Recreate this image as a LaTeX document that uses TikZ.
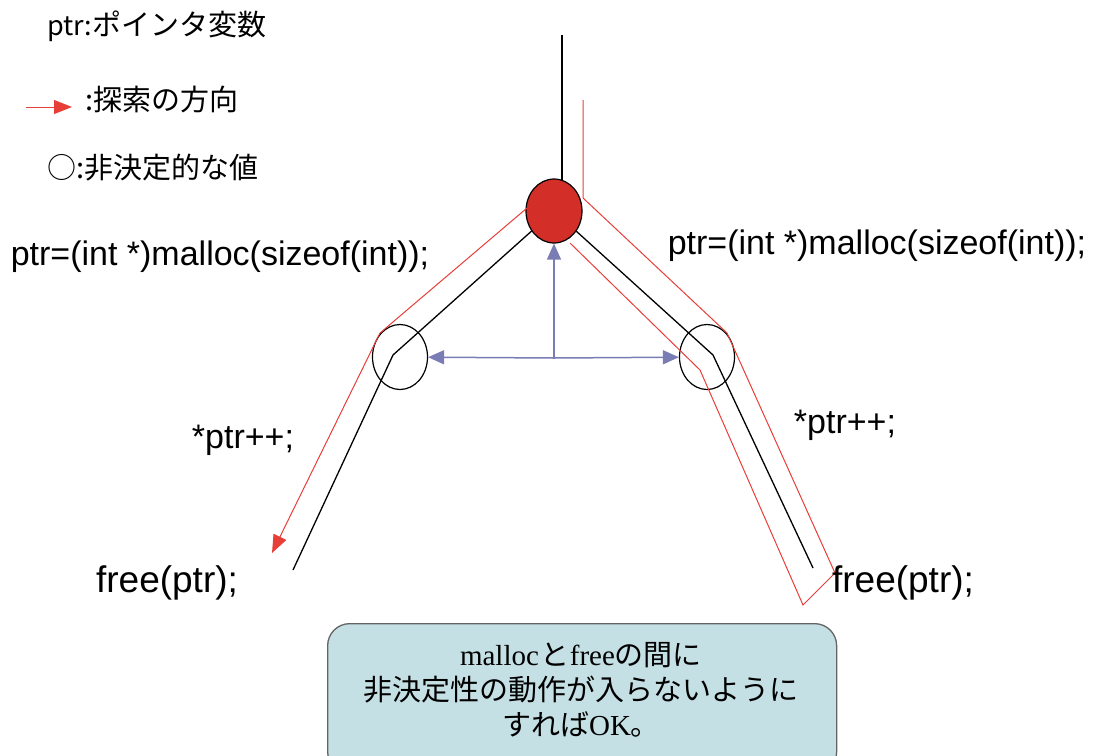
\documentclass[tikz,border=0pt]{standalone}
\usepackage{fontspec}
\setmainfont{Liberation Sans}
\newfontfamily\jp{Noto Sans CJK JP}
\newfontfamily\serifL{Liberation Serif}
\usetikzlibrary{arrows.meta,shapes.geometric}
\pgfdeclarelayer{background}
\pgfsetlayers{background,main}
\definecolor{redline}{RGB}{232,62,56}
\definecolor{redfill}{RGB}{212,46,40}
\definecolor{bluearrow}{RGB}{122,124,180}
\definecolor{boxfill}{RGB}{196,224,228}
\definecolor{boxedge}{RGB}{100,100,100}
\begin{document}
\begin{tikzpicture}[x=1pt,y=-1pt,
  blk/.style={draw=black, line width=1.3pt},
  redln/.style={draw=redline, line width=1pt, line join=miter},
  redtip/.style={-{Triangle[length=18pt,width=14pt]}},
  blu/.style={draw=bluearrow, line width=1.5pt, -{Triangle[length=16pt,width=14pt]}},
  hollow/.style={ellipse, draw, line width=1.2pt, minimum width=55pt, minimum height=65pt, inner sep=0pt},
  rootnode/.style={ellipse, draw, fill=redfill, line width=1.2pt, minimum width=56pt, minimum height=64pt, inner sep=0pt},
  code/.style={font=\fontsize{34}{40}\selectfont, inner sep=0pt},
  freelbl/.style={font=\fontsize{37}{42}\selectfont, inner sep=0pt},
  legend/.style={font=\jp\fontsize{29}{34}\selectfont, inner sep=0pt, anchor=west},
  notebox/.style={draw=boxedge, fill=boxfill, line width=1.3pt, rounded corners=22pt, inner sep=0pt},
  notetext/.style={align=center, inner sep=0pt, font=\jp\fontsize{29}{35}\selectfont}
]
\useasboundingbox (0,0) rectangle (1094,755);

% legend
\node[legend] (leg1) at (47,26) {{\fontsize{27}{34}\selectfont ptr:}ポインタ変数};
\coordinate (la) at (26,107);
\coordinate (lb) at (72,107);
\draw[redln, redtip] (la) -- (lb);
\node[legend] (leg2) at (85,99) {:探索の方向};
\node[legend] (leg3) at (47,168) {○:非決定的な値};

% nodes
\node[rootnode] (root) at (554,211) {};
\node[hollow] (lc) at (400,357) {};
\node[hollow] (rc) at (707,357) {};
\coordinate (top) at (562,35);
\coordinate (lbend) at (393,355);
\coordinate (lend) at (293,570);
\coordinate (rbend) at (713,355);
\coordinate (rend) at (813,568);
\coordinate (hub) at (554,358);

% black tree lines
\begin{pgfonlayer}{background}
\draw[blk] (top) -- (top |- root.center);
\end{pgfonlayer}
\draw[blk] (root) -- (lbend) -- (lend);
\draw[blk] (root) -- (rbend) -- (rend);

% red search paths
\coordinate (lr0) at (527,208);
\coordinate (lr1) at (380,333);
\coordinate (lr2) at (272,553);
\draw[redln, redtip] (lr0) -- (lr1) -- (lr2);
\coordinate (rr0) at (583,100);
\coordinate (rr1) at (583,198);
\coordinate (rr2) at (727,333);
\coordinate (rr3) at (835,573);
\coordinate (rr4) at (803,605);
\coordinate (rr5) at (700,370);
\coordinate (rr6) at (570,243);
\draw[redln] (rr0) -- (rr1) -- (rr2) -- (rr3) -- (rr4) -- (rr5) -- (rr6);

% blue arrows
\draw[blu] (hub) -- (root);
\draw[blu] (hub) -- (lc);
\draw[blu] (hub) -- (rc);

% code labels
\node[code] (m1) at (220,257) {ptr=(int *)malloc(sizeof(int));};
\node[code] (m2) at (877,246) {ptr=(int *)malloc(sizeof(int));};
\node[code] (p1) at (243,440) {*ptr++;};
\node[code] (p2) at (845,425) {*ptr++;};
\node[freelbl] (f1) at (167,583) {free(ptr);};
\node[freelbl] (f2) at (903,583) {free(ptr);};

% note
\node[notebox, minimum width=509pt, minimum height=150pt, anchor=north west] (note) at (327,623) {};
\node[notetext] (notetxt) at (581,690) {{\serifL malloc\kern2pt}と{\serifL free}の間に\\非決定性の動作が入らないように\\すれば{\serifL OK}。};
\end{tikzpicture}
\end{document}
